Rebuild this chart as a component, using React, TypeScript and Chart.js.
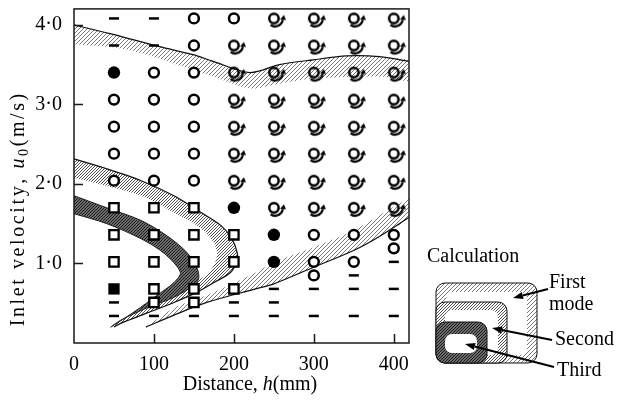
import React, { useEffect, useRef } from 'react';
import { Chart, registerables } from 'chart.js';

Chart.register(...registerables);

type P = [number, number];

// ---------- axes ----------
const xTickValues = [100, 200, 300, 400];
const yTickValues = [1, 2, 3, 4];
const xMax = 419;
const yMax = 4.2;

// ---------- experimental observations [h (mm), u0 (m/s)] ----------
const noOscillation: P[] = [
  [50, 4.08], [50, 3.74], [50, 0.51], [50, 0.34],
  [100, 4.08], [100, 3.74], [100, 0.34],
  [150, 0.34],
  [200, 0.51], [200, 0.34],
  [250, 0.68], [250, 0.51], [250, 0.34],
  [300, 0.68], [300, 0.34],
  [350, 0.85], [350, 0.68], [350, 0.34],
  [400, 1.02], [400, 0.68], [400, 0.34],
];
const openCircles: P[] = [
  [50, 3.06], [50, 2.72], [50, 2.38], [50, 2.04],
  [100, 3.40], [100, 3.06], [100, 2.72], [100, 2.38], [100, 2.04],
  [150, 4.08], [150, 3.74], [150, 3.40], [150, 3.06], [150, 2.72], [150, 2.38], [150, 2.04],
  [200, 4.08],
  [300, 1.36], [300, 1.02], [300, 0.85],
  [350, 1.36], [350, 1.02],
  [400, 1.36], [400, 1.19],
];
const swirls: P[] = [
  [200, 3.74], [200, 3.40], [200, 3.06], [200, 2.72], [200, 2.38], [200, 2.04],
  [250, 4.08], [250, 3.74], [250, 3.40], [250, 3.06], [250, 2.72], [250, 2.38], [250, 2.04], [250, 1.70],
  [300, 4.08], [300, 3.74], [300, 3.40], [300, 3.06], [300, 2.72], [300, 2.38], [300, 2.04], [300, 1.70],
  [350, 4.08], [350, 3.74], [350, 3.40], [350, 3.06], [350, 2.72], [350, 2.38], [350, 2.04], [350, 1.70],
  [400, 4.08], [400, 3.74], [400, 3.40], [400, 3.06], [400, 2.72], [400, 2.38], [400, 2.04], [400, 1.70],
];
const filledCircles: P[] = [[50, 3.40], [200, 1.70], [250, 1.36], [250, 1.02]];
const openSquares: P[] = [
  [50, 1.70], [50, 1.36], [50, 1.02],
  [100, 1.70], [100, 1.36], [100, 1.02], [100, 0.68], [100, 0.51],
  [150, 1.70], [150, 1.36], [150, 1.02], [150, 0.68], [150, 0.51],
  [200, 1.36], [200, 1.02], [200, 0.68],
];
const filledSquares: P[] = [[50, 0.68]];

// ---------- calculated regions ----------
const firstUpperTop: P[] = [
  [-5, 4.01], [45, 3.89], [107, 3.725], [149, 3.625], [174, 3.54], [220, 3.40],
  [257, 3.50], [299, 3.56], [341, 3.61], [382, 3.60], [425, 3.53],
];
const firstUpperBottom: P[] = [
  [425, 3.30], [382, 3.35], [299, 3.325], [257, 3.26], [220, 3.20],
  [174, 3.35], [132, 3.49], [66, 3.69], [-5, 3.76],
];
const firstLowerBottom: P[] = [
  [90, 0.20], [125, 0.35], [166, 0.51], [225, 0.675], [249, 0.74],
  [299, 0.95], [349, 1.16], [382, 1.34], [425, 1.62],
];
const firstLowerTop: P[] = [
  [425, 1.83], [349, 1.41], [299, 1.20], [249, 1.01], [225, 0.875],
  [166, 0.60], [125, 0.44], [90, 0.20],
];
const secondOuter: P[] = [
  [-5, 2.33], [41, 2.19], [84, 2.04], [125, 1.85], [159, 1.64], [184, 1.475],
  [197.5, 1.31], [204, 1.14], [204, 1.04], [196, 0.89], [175, 0.76], [154, 0.64],
  [125, 0.51], [91, 0.375], [59, 0.25], [50, 0.20],
];
const secondInner: P[] = [
  [59, 0.29], [91, 0.475], [125, 0.625], [159, 0.81], [172.5, 0.94], [179, 1.10],
  [175, 1.26], [159, 1.44], [125, 1.64], [84, 1.85], [41, 1.975], [-5, 2.09],
];
const thirdOuter: P[] = [
  [-5, 1.87], [41, 1.70], [84, 1.54], [116, 1.35], [141, 1.14], [154, 0.94],
  [156, 0.81], [150, 0.725], [125, 0.575], [91, 0.44], [59, 0.29], [46, 0.20],
];
const thirdInner: P[] = [
  [75, 0.39], [104, 0.60], [125, 0.76], [133, 0.89], [113, 1.125], [84, 1.31],
  [41, 1.50], [-5, 1.64],
];

const FONT = "'Liberation Serif', 'Times New Roman', serif";
const W = 617;
const H = 403;

const xy = (a: P[]) => a.map(([x, y]) => ({ x, y }));

function hatchTile(size: number, bg: string | null, fg: string, lw: number) {
  const c = document.createElement('canvas');
  c.width = size;
  c.height = size;
  const g = c.getContext('2d')!;
  if (bg) {
    g.fillStyle = bg;
    g.fillRect(0, 0, size, size);
  }
  g.strokeStyle = fg;
  g.lineWidth = lw;
  g.beginPath();
  for (let k = -1; k <= 1; k++) {
    g.moveTo(k * size - 1, size + 1);
    g.lineTo(k * size + size + 1, -1);
  }
  g.stroke();
  return c;
}

function makeSwirl() {
  const s = 30;
  const c = document.createElement('canvas');
  c.width = s;
  c.height = s;
  const g = c.getContext('2d')!;
  const cx = 15, cy = 15;
  g.strokeStyle = '#000';
  g.fillStyle = '#000';
  g.lineWidth = 2.5;
  g.beginPath();
  g.arc(cx, cy, 4.7, 0, Math.PI * 2);
  g.stroke();
  const tx = cx + 1.4, ty = cy + 0.6, r = 7.4;
  const a0 = (130 * Math.PI) / 180, a1 = (5 * Math.PI) / 180;
  g.lineWidth = 2.3;
  g.beginPath();
  g.arc(tx, ty, r, a0, a1, true);
  g.stroke();
  const ex = tx + r * Math.cos(a1), ey = ty + r * Math.sin(a1);
  const dx = Math.sin(a1), dy = -Math.cos(a1);
  const nx = -dy, ny = dx;
  g.beginPath();
  g.moveTo(ex + dx * 4.8 + 0.8, ey + dy * 4.8);
  g.lineTo(ex + nx * 3.3, ey + ny * 3.3);
  g.lineTo(ex - nx * 2.7, ey - ny * 2.7);
  g.closePath();
  g.fill();
  return c;
}

type Seg = { t: string; it?: boolean; sub?: boolean };
function segFont(s: Seg, size: number) {
  return `${s.it ? 'italic ' : ''}${s.sub ? Math.round(size * 0.7) : size}px ${FONT}`;
}
function richWidth(ctx: CanvasRenderingContext2D, segs: Seg[], size: number, sp = 0) {
  let w = 0;
  for (const s of segs) {
    ctx.font = segFont(s, size);
    for (const ch of s.t) w += ctx.measureText(ch).width + sp;
  }
  return w - sp;
}
function drawRich(ctx: CanvasRenderingContext2D, segs: Seg[], size: number, x: number, y: number, sp = 0) {
  let cx = x;
  ctx.textBaseline = 'alphabetic';
  ctx.textAlign = 'left';
  for (const s of segs) {
    ctx.font = segFont(s, size);
    if (sp === 0) {
      ctx.fillText(s.t, cx, s.sub ? y + size * 0.22 : y);
      cx += ctx.measureText(s.t).width;
    } else {
      for (const ch of s.t) {
        ctx.fillText(ch, cx, s.sub ? y + size * 0.22 : y);
        cx += ctx.measureText(ch).width + sp;
      }
    }
  }
}

function rr(ctx: CanvasRenderingContext2D, x: number, y: number, w: number, h: number, r: number) {
  ctx.beginPath();
  ctx.moveTo(x + r, y);
  ctx.arcTo(x + w, y, x + w, y + h, r);
  ctx.arcTo(x + w, y + h, x, y + h, r);
  ctx.arcTo(x, y + h, x, y, r);
  ctx.arcTo(x, y, x + w, y, r);
  ctx.closePath();
}

function arrow(ctx: CanvasRenderingContext2D, x1: number, y1: number, x2: number, y2: number) {
  const a = Math.atan2(y2 - y1, x2 - x1);
  const L = 10, hw = 3.5;
  const bx = x2 - L * Math.cos(a), by = y2 - L * Math.sin(a);
  ctx.lineWidth = 2;
  ctx.beginPath();
  ctx.moveTo(x1, y1);
  ctx.lineTo(bx, by);
  ctx.stroke();
  ctx.beginPath();
  ctx.moveTo(x2, y2);
  ctx.lineTo(bx + hw * Math.sin(a), by - hw * Math.cos(a));
  ctx.lineTo(bx - hw * Math.sin(a), by + hw * Math.cos(a));
  ctx.closePath();
  ctx.fill();
}

export default function App() {
  const ref = useRef<HTMLCanvasElement>(null);

  useEffect(() => {
    const canvas = ref.current!;
    const ctx0 = canvas.getContext('2d')!;
    const p1 = ctx0.createPattern(hatchTile(4, '#ffffff', '#6a6a6a', 0.9), 'repeat')!;
    const p2 = ctx0.createPattern(hatchTile(3, '#ffffff', '#505050', 1.0), 'repeat')!;
    const p3 = ctx0.createPattern(hatchTile(3, '#8a8a8a', '#1a1a1a', 1.1), 'repeat')!;
    const swirl = makeSwirl();

    const band = (data: P[], pat: CanvasPattern, order: number, border = 'rgba(0,0,0,0)', bw = 0) => ({
      data: xy(data),
      showLine: true,
      fill: 'shape',
      backgroundColor: pat,
      borderColor: border,
      borderWidth: bw,
      pointRadius: 0,
      tension: 0.3,
      order,
    });
    const edge = (data: P[], order: number) => ({
      data: xy(data),
      showLine: true,
      fill: false,
      borderColor: '#111',
      borderWidth: 1.2,
      pointRadius: 0,
      tension: 0.3,
      order,
    });
    const marks = (data: P[], style: any, r: number, bg: string, bw: number) => ({
      data: xy(data),
      pointStyle: style,
      pointRadius: r,
      pointHoverRadius: r,
      backgroundColor: bg,
      borderColor: '#000',
      pointBorderWidth: bw,
      borderWidth: bw,
      order: 0,
    });

    const deco = {
      id: 'deco',
      afterDraw(chart: any) {
        const { ctx, chartArea: a, scales } = chart;
        const sx = scales.x, sy = scales.y;
        ctx.save();
        ctx.strokeStyle = '#1a1a1a';
        ctx.lineWidth = 1.5;
        ctx.strokeRect(a.left, a.top, a.right - a.left, a.bottom - a.top);
        ctx.beginPath();
        for (const v of yTickValues) {
          const py = Math.round(sy.getPixelForValue(v)) + 0.5;
          ctx.moveTo(a.left, py);
          ctx.lineTo(a.left + 9, py);
        }
        for (const v of xTickValues) {
          const px = Math.round(sx.getPixelForValue(v)) + 0.5;
          ctx.moveTo(px, a.bottom);
          ctx.lineTo(px, a.bottom - 9);
        }
        ctx.stroke();

        ctx.fillStyle = '#000';
        // x title
        const xt: Seg[] = [{ t: 'Distance, ' }, { t: 'h', it: true }, { t: '(mm)' }];
        const xw = richWidth(ctx, xt, 20);
        drawRich(ctx, xt, 20, 250 - xw / 2, 390);
        // y title
        const yt: Seg[] = [{ t: 'Inlet velocity, ' }, { t: 'u', it: true }, { t: '0', sub: true }, { t: '(m/s)' }];
        const yw = richWidth(ctx, yt, 20, 2.6);
        ctx.save();
        ctx.translate(24, 210);
        ctx.rotate(-Math.PI / 2);
        drawRich(ctx, yt, 20, -yw / 2, 0, 2.6);
        ctx.restore();

        // legend
        const boxes = [
          { o: [436, 283, 101, 80], i: [446, 292, 81, 63], pat: p1 },
          { o: [436, 302, 71, 61], i: [445, 310, 53, 45], pat: p2 },
          { o: [436, 322, 51, 41], i: [445, 334, 32, 19], pat: p3 },
        ];
        for (const b of boxes) {
          rr(ctx, b.o[0], b.o[1], b.o[2], b.o[3], 9);
          ctx.fillStyle = b.pat;
          ctx.fill();
          ctx.strokeStyle = '#111';
          ctx.lineWidth = 1;
          ctx.stroke();
          rr(ctx, b.i[0], b.i[1], b.i[2], b.i[3], 7);
          ctx.fillStyle = '#fff';
          ctx.fill();
        }
        ctx.fillStyle = '#000';
        ctx.strokeStyle = '#000';
        arrow(ctx, 548, 289, 513, 298);
        arrow(ctx, 552, 340, 492, 328);
        arrow(ctx, 554, 367, 465, 344);
        ctx.font = `20px ${FONT}`;
        ctx.textAlign = 'left';
        ctx.textBaseline = 'alphabetic';
        ctx.fillText('Calculation', 427, 262);
        ctx.fillText('First', 549, 288);
        ctx.fillText('mode', 549, 310);
        ctx.fillText('Second', 555, 345);
        ctx.fillText('Third', 557, 376);
        ctx.restore();
      },
    };

    const chart = new Chart(canvas, {
      type: 'scatter',
      data: {
        datasets: [
          marks(noOscillation, 'line', 5, '#000', 2.5),
          marks(openCircles, 'circle', 4.9, '#fff', 2.5),
          marks(swirls, swirl, 5, '#000', 0),
          marks(filledCircles, 'circle', 6.2, '#000', 0),
          marks(openSquares, 'rect', 6.6, '#fff', 2.3),
          marks(filledSquares, 'rect', 8, '#000', 0),
          band([...thirdOuter, ...thirdInner], p3, 10, '#222', 1),
          edge(secondOuter, 11),
          band([...secondOuter, ...secondInner], p2, 12),
          edge(firstLowerBottom, 13),
          band([...firstLowerBottom, ...firstLowerTop], p1, 14),
          edge(firstUpperTop, 13),
          band([...firstUpperTop, ...firstUpperBottom], p1, 14),
        ] as any,
      },
      options: {
        animation: false,
        responsive: false,
        devicePixelRatio: 1,
        layout: { padding: { left: 0, right: 208, top: 7, bottom: 0 } },
        plugins: { legend: { display: false }, tooltip: { enabled: false } },
        events: [],
        scales: {
          x: {
            type: 'linear',
            min: 0,
            max: xMax,
            afterFit: (s: any) => { s.height = 60; s.paddingLeft = 0; s.paddingRight = 0; },
            grid: { display: false, drawTicks: false },
            border: { display: false },
            ticks: {
              stepSize: 100,
              includeBounds: false,
              autoSkip: false,
              maxRotation: 0,
              padding: 10,
              color: '#000',
              font: { family: FONT, size: 20 },
            },
          },
          y: {
            type: 'linear',
            min: 0,
            max: yMax,
            afterFit: (s: any) => { s.width = 74; s.paddingTop = 0; s.paddingBottom = 0; },
            grid: { display: false, drawTicks: false },
            border: { display: false },
            ticks: {
              stepSize: 1,
              includeBounds: false,
              padding: 12,
              color: '#000',
              font: { family: FONT, size: 20 },
              callback: (v: any) => (Number(v) === 0 ? '' : Number(v).toFixed(1).replace('.', '\u00B7')),
            },
          },
        },
      } as any,
      plugins: [deco],
    });
    return () => chart.destroy();
  }, []);

  return (
    <div style={{ position: 'absolute', left: 0, top: 0, width: W, height: H, background: '#fff' }}>
      <canvas ref={ref} width={W} height={H} style={{ width: W, height: H, display: 'block' }} />
    </div>
  );
}
